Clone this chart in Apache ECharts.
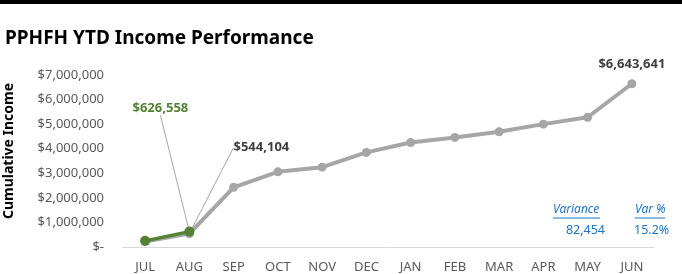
<!DOCTYPE html>
<html>
<head>
<meta charset="utf-8">
<script src="https://cdn.jsdelivr.net/npm/echarts@6/dist/echarts.min.js"></script>
<style>
html,body{margin:0;padding:0;background:#fff;}
#topbar{position:absolute;left:0;top:0;width:682px;height:4px;background:#000;}
#chart{width:682px;height:274px;}
</style>
</head>
<body>
<div id="chart"></div>
<div id="topbar"></div>
<script>
var categories = ['JUL','AUG','SEP','OCT','NOV','DEC','JAN','FEB','MAR','APR','MAY','JUN'];
var priorYear = [220000, 544104, 2430000, 3060000, 3250000, 3850000, 4250000, 4460000, 4690000, 5000000, 5280000, 6643641];
var currentYear = [250000, 626558];
var yTicks = [0, 1000000, 2000000, 3000000, 4000000, 5000000, 6000000, 7000000];
var yAxisTitle = 'Cumulative Income';
var varianceLabel = 'Variance';
var varPctLabel = 'Var %';
var varianceValue = '82,454';
var varPctValue = '15.2%';

var FONT = 'Noto Sans';
function money(v){ return v === 0 ? '$-' : '$' + Math.round(v).toLocaleString('en-US'); }

var gray = '#A6A6A6', green = '#548235', txt = '#595959', blue = '#1F74C4';

var grayData = priorYear.map(function(v, i){
  var d = {value: v};
  if (i === 1) {
    d.label = {show: true, position: 'inside', formatter: money(v), color: '#404040', fontWeight: 'bold', fontSize: 13, fontFamily: FONT};
    d.labelLine = {show: true, lineStyle: {color: gray, width: 1}};
  }
  if (i === priorYear.length - 1) {
    d.label = {show: true, position: 'top', distance: 8, formatter: money(v), color: '#404040', fontWeight: 'bold', fontSize: 13, fontFamily: FONT};
  }
  return d;
});
var greenData = currentYear.map(function(v, i){
  var d = {value: v};
  if (i === 1) {
    d.label = {show: true, position: 'inside', formatter: money(v), color: green, fontWeight: 'bold', fontSize: 13, fontFamily: FONT};
    d.labelLine = {show: true, lineStyle: {color: gray, width: 1}};
  }
  return d;
});

var chart = echarts.init(document.getElementById('chart'), null, {renderer: 'canvas'});
chart.setOption({
  animation: false,
  title: {
    text: 'PPHFH YTD Income Performance', left: 0, top: 24,
    textStyle: {fontFamily: FONT, fontWeight: 'bold', fontSize: 19, color: '#000'}
  },
  grid: {left: 123, right: 28, top: 75, bottom: 27},
  xAxis: {
    type: 'category', data: categories, boundaryGap: true,
    axisLine: {lineStyle: {color: '#D9D9D9', width: 1}},
    axisTick: {show: false},
    axisLabel: {color: txt, fontSize: 13, fontFamily: FONT, margin: 14}
  },
  yAxis: {
    type: 'value', min: 0, max: 7000000, interval: 1000000,
    splitLine: {show: false}, axisLine: {show: false}, axisTick: {show: false},
    axisLabel: {color: txt, fontSize: 13, fontFamily: FONT, margin: 19,
      formatter: function(v){ return yTicks.indexOf(v) >= 0 ? money(v) : ''; }}
  },
  series: [
    {
      name: 'Prior', type: 'line', data: grayData, z: 2,
      symbol: 'circle', symbolSize: 9,
      lineStyle: {color: gray, width: 4}, itemStyle: {color: gray},
      label: {show: false},
      labelLayout: function(p){
        if (p.dataIndex === 1) return {dx: 72, dy: -86};
        return {};
      }
    },
    {
      name: 'Current', type: 'line', data: greenData, z: 3,
      symbol: 'circle', symbolSize: 10,
      lineStyle: {color: green, width: 3.5}, itemStyle: {color: green},
      label: {show: false},
      labelLayout: function(p){
        if (p.dataIndex === 1) return {dx: -29, dy: -123};
        return {};
      }
    }
  ],
  graphic: [
    {type: 'text', x: 9, y: 151, rotation: Math.PI / 2,
      style: {text: yAxisTitle, fill: '#000', font: 'bold 14px "Noto Sans"', textAlign: 'center', textVerticalAlign: 'middle'}},
    {type: 'text', left: 553, top: 204, style: {text: varianceLabel, fill: blue, font: 'italic 12px "Noto Sans"'}},
    {type: 'line', shape: {x1: 553, y1: 218, x2: 600, y2: 218}, style: {stroke: blue, lineWidth: 1}},
    {type: 'text', left: 635, top: 204, style: {text: varPctLabel, fill: blue, font: 'italic 12px "Noto Sans"'}},
    {type: 'line', shape: {x1: 635, y1: 218, x2: 665, y2: 218}, style: {stroke: blue, lineWidth: 1}},
    {type: 'text', right: 77, top: 224, style: {text: varianceValue, fill: blue, font: '12.5px "Noto Sans"', textAlign: 'right'}},
    {type: 'text', left: 634, top: 224, style: {text: varPctValue, fill: blue, font: '12.5px "Noto Sans"'}}
  ]
});
</script>
</body>
</html>
